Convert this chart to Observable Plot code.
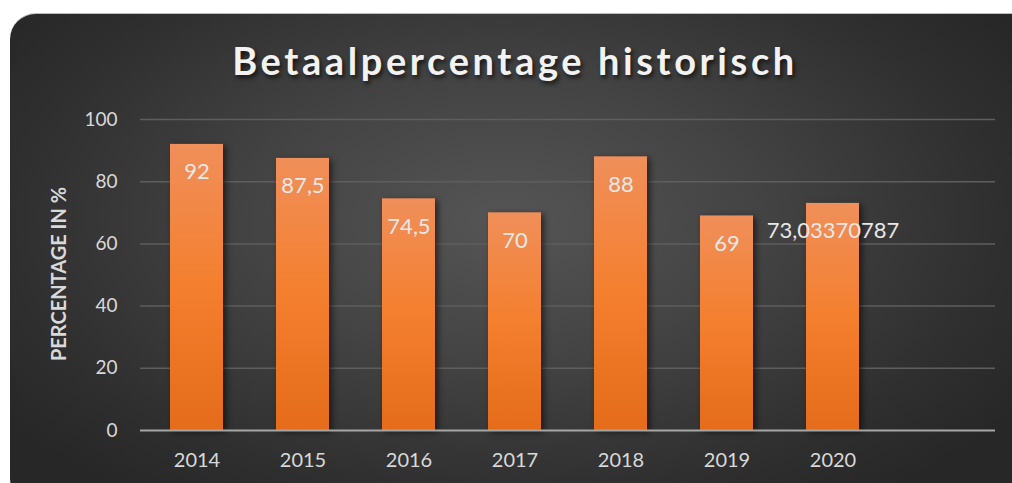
<!DOCTYPE html>
<html>
<head>
<meta charset="utf-8">
<script src="https://cdn.jsdelivr.net/npm/d3@7"></script>
<script src="https://cdn.jsdelivr.net/npm/@observablehq/plot@0.6"></script>
<style>
  html, body { margin: 0; padding: 0; background: #ffffff; width: 1012px; height: 483px; overflow: hidden; }
  #card {
    position: absolute; left: 10px; top: 13px; width: 1030px; height: 492px;
    border-radius: 26px;
    background: radial-gradient(ellipse 60% 70% at 48% 42%, #555555 0%, #444444 40%, #2f2f2f 80%, #272727 100%);
    border-top: 1px solid #bdbdbd;
    box-sizing: border-box;
  }
  #title {
    position: absolute; left: 0; width: 1030px; top: 37px; text-align: center;
    font-family: Lato, sans-serif; font-weight: 700; font-size: 38px; letter-spacing: 3.6px;
    color: #f2f2f2; text-shadow: 2px 3px 4px rgba(0,0,0,0.65);
  }
  #ylabel {
    position: absolute; left: 58px; top: 274px; transform: translate(-50%, -50%) rotate(-90deg);
    font-family: Lato, sans-serif; font-weight: 700; font-size: 20px; color: #d9d9d9; white-space: nowrap;
  }
  #chart { position: absolute; left: 0; top: 90px; }
  .bars rect { filter: drop-shadow(3px 2px 3px rgba(0,0,0,0.55)); }
</style>
</head>
<body>
<div id="card"></div>
<div id="title">Betaalpercentage historisch</div>
<div id="ylabel">PERCENTAGE IN %</div>
<div id="chart"></div>
<script>
const categories = ["2014", "2015", "2016", "2017", "2018", "2019", "2020", ""];
const years = ["2014", "2015", "2016", "2017", "2018", "2019", "2020"];
const values = [92, 87.5, 74.5, 70, 88, 69, 73.03370787];
const yTicks = [0, 20, 40, 60, 80, 100];

const data = years.map((year, i) => ({year, value: values[i], label: String(values[i]).replace(".", ",")}));

const svg = Plot.plot({
  width: 1012, height: 393,
  marginLeft: 140, marginRight: 17, marginTop: 29, marginBottom: 53,
  style: {background: "transparent", color: "#d9d9d9", fontFamily: "Lato, sans-serif"},
  x: {domain: categories, paddingInner: 0.5, paddingOuter: 0.25, label: null},
  y: {domain: [0, 100], label: null},
  marks: [
    Plot.gridY(yTicks.filter(d => d > 0), {stroke: "#5e5e5e", strokeOpacity: 1, strokeWidth: 1.5}),
    Plot.axisY({ticks: yTicks, tickSize: 0, tickPadding: 23, fontSize: 19, label: null, fill: "#d9d9d9"}),
    Plot.axisX({tickSize: 0, tickPadding: 22, fontSize: 20, label: null, fill: "#d9d9d9"}),
    Plot.barY(data, {x: "year", y: "value", fill: "url(#barGrad)", className: "bars"}),
    Plot.ruleY([0], {stroke: "#a6a6a6", strokeWidth: 2}),
    Plot.text(data, {x: "year", y: "value", text: "label", dy: 28, fill: "#e8e8e8", fontSize: 22})
  ]
});

const defs = d3.select(svg).insert("defs", ":first-child");
const g = defs.append("linearGradient").attr("id", "barGrad").attr("x1", 0).attr("y1", 0).attr("x2", 0).attr("y2", 1);
g.append("stop").attr("offset", "0%").attr("stop-color", "#f08f5a");
g.append("stop").attr("offset", "50%").attr("stop-color", "#f47f2e");
g.append("stop").attr("offset", "100%").attr("stop-color", "#e46c1a");

document.getElementById("chart").appendChild(svg);
</script>
</body>
</html>
